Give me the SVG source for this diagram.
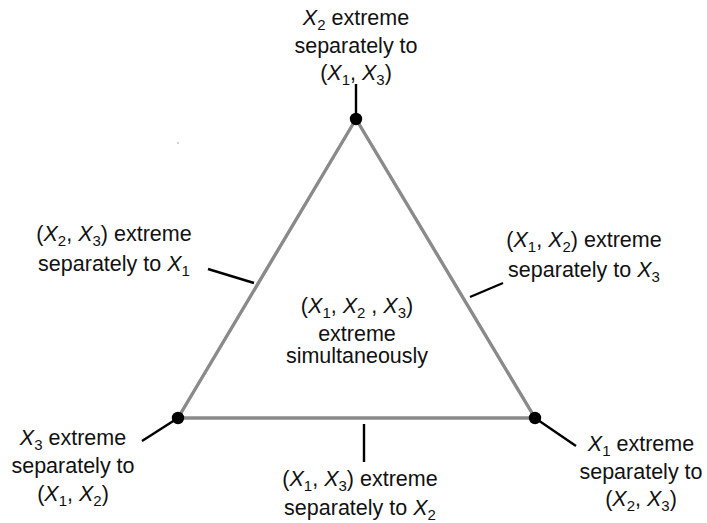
<svg xmlns="http://www.w3.org/2000/svg" width="707" height="523" viewBox="0 0 707 523">
<style>
text{font-family:"Liberation Sans","DejaVu Sans",sans-serif;font-size:21.5px;fill:#111;text-anchor:middle}
.v{font-style:italic}
.s{font-size:15px}
.edge{stroke:#8a8a8a;stroke-width:3.4;fill:none;stroke-linejoin:miter}
.tick{stroke:#000;stroke-width:2.4}
.dot{fill:#000}
</style>
<rect width="707" height="523" fill="#fff"/>
<g id="connectors">
<polygon class="edge" points="356,119 178,418 535,418"/>
<line class="tick" x1="356" y1="84" x2="356" y2="119"/>
<line class="tick" x1="142" y1="441" x2="178" y2="418"/>
<line class="tick" x1="576" y1="446" x2="535" y2="418"/>
<line class="tick" x1="208" y1="269" x2="254" y2="283"/>
<line class="tick" x1="470" y1="297" x2="503" y2="283"/>
<line class="tick" x1="364" y1="424" x2="364" y2="462"/>
</g>
<circle cx="178" cy="143" r="0.8" fill="#999"/>
<g id="v2">
<circle class="dot" cx="356" cy="119" r="6.2"/>
<text x="356" y="25"><tspan class="v">X</tspan><tspan class="s" dy="5">2</tspan><tspan dy="-5"> extreme</tspan></text>
<text x="356" y="53">separately to</text>
<text x="356" y="80">(<tspan class="v">X</tspan><tspan class="s" dy="5">1</tspan><tspan dy="-5">, </tspan><tspan class="v">X</tspan><tspan class="s" dy="5">3</tspan><tspan dy="-5">)</tspan></text>
</g>
<g id="v3">
<circle class="dot" cx="178" cy="418" r="6.2"/>
<text x="73" y="445"><tspan class="v">X</tspan><tspan class="s" dy="5">3</tspan><tspan dy="-5"> extreme</tspan></text>
<text x="73" y="473">separately to</text>
<text x="73" y="501">(<tspan class="v">X</tspan><tspan class="s" dy="5">1</tspan><tspan dy="-5">, </tspan><tspan class="v">X</tspan><tspan class="s" dy="5">2</tspan><tspan dy="-5">)</tspan></text>
</g>
<g id="v1">
<circle class="dot" cx="535" cy="418" r="6.2"/>
<text x="641" y="451"><tspan class="v">X</tspan><tspan class="s" dy="5">1</tspan><tspan dy="-5"> extreme</tspan></text>
<text x="641" y="479">separately to</text>
<text x="641" y="506">(<tspan class="v">X</tspan><tspan class="s" dy="5">2</tspan><tspan dy="-5">, </tspan><tspan class="v">X</tspan><tspan class="s" dy="5">3</tspan><tspan dy="-5">)</tspan></text>
</g>
<g id="e23">
<text x="114" y="241">(<tspan class="v">X</tspan><tspan class="s" dy="5">2</tspan><tspan dy="-5">, </tspan><tspan class="v">X</tspan><tspan class="s" dy="5">3</tspan><tspan dy="-5">) extreme</tspan></text>
<text x="114" y="271">separately to <tspan class="v">X</tspan><tspan class="s" dy="5">1</tspan></text>
</g>
<g id="e12">
<text x="584" y="247">(<tspan class="v">X</tspan><tspan class="s" dy="5">1</tspan><tspan dy="-5">, </tspan><tspan class="v">X</tspan><tspan class="s" dy="5">2</tspan><tspan dy="-5">) extreme</tspan></text>
<text x="584" y="277">separately to <tspan class="v">X</tspan><tspan class="s" dy="5">3</tspan></text>
</g>
<g id="e13">
<text x="360" y="486">(<tspan class="v">X</tspan><tspan class="s" dy="5">1</tspan><tspan dy="-5">, </tspan><tspan class="v">X</tspan><tspan class="s" dy="5">3</tspan><tspan dy="-5">) extreme</tspan></text>
<text x="360" y="515">separately to <tspan class="v">X</tspan><tspan class="s" dy="5">2</tspan></text>
</g>
<g id="center">
<text x="357" y="313">(<tspan class="v">X</tspan><tspan class="s" dy="5">1</tspan><tspan dy="-5">, </tspan><tspan class="v">X</tspan><tspan class="s" dy="5">2</tspan><tspan dy="-5"> , </tspan><tspan class="v">X</tspan><tspan class="s" dy="5">3</tspan><tspan dy="-5">)</tspan></text>
<text x="357" y="341">extreme</text>
<text x="357" y="363">simultaneously</text>
</g>
</svg>
